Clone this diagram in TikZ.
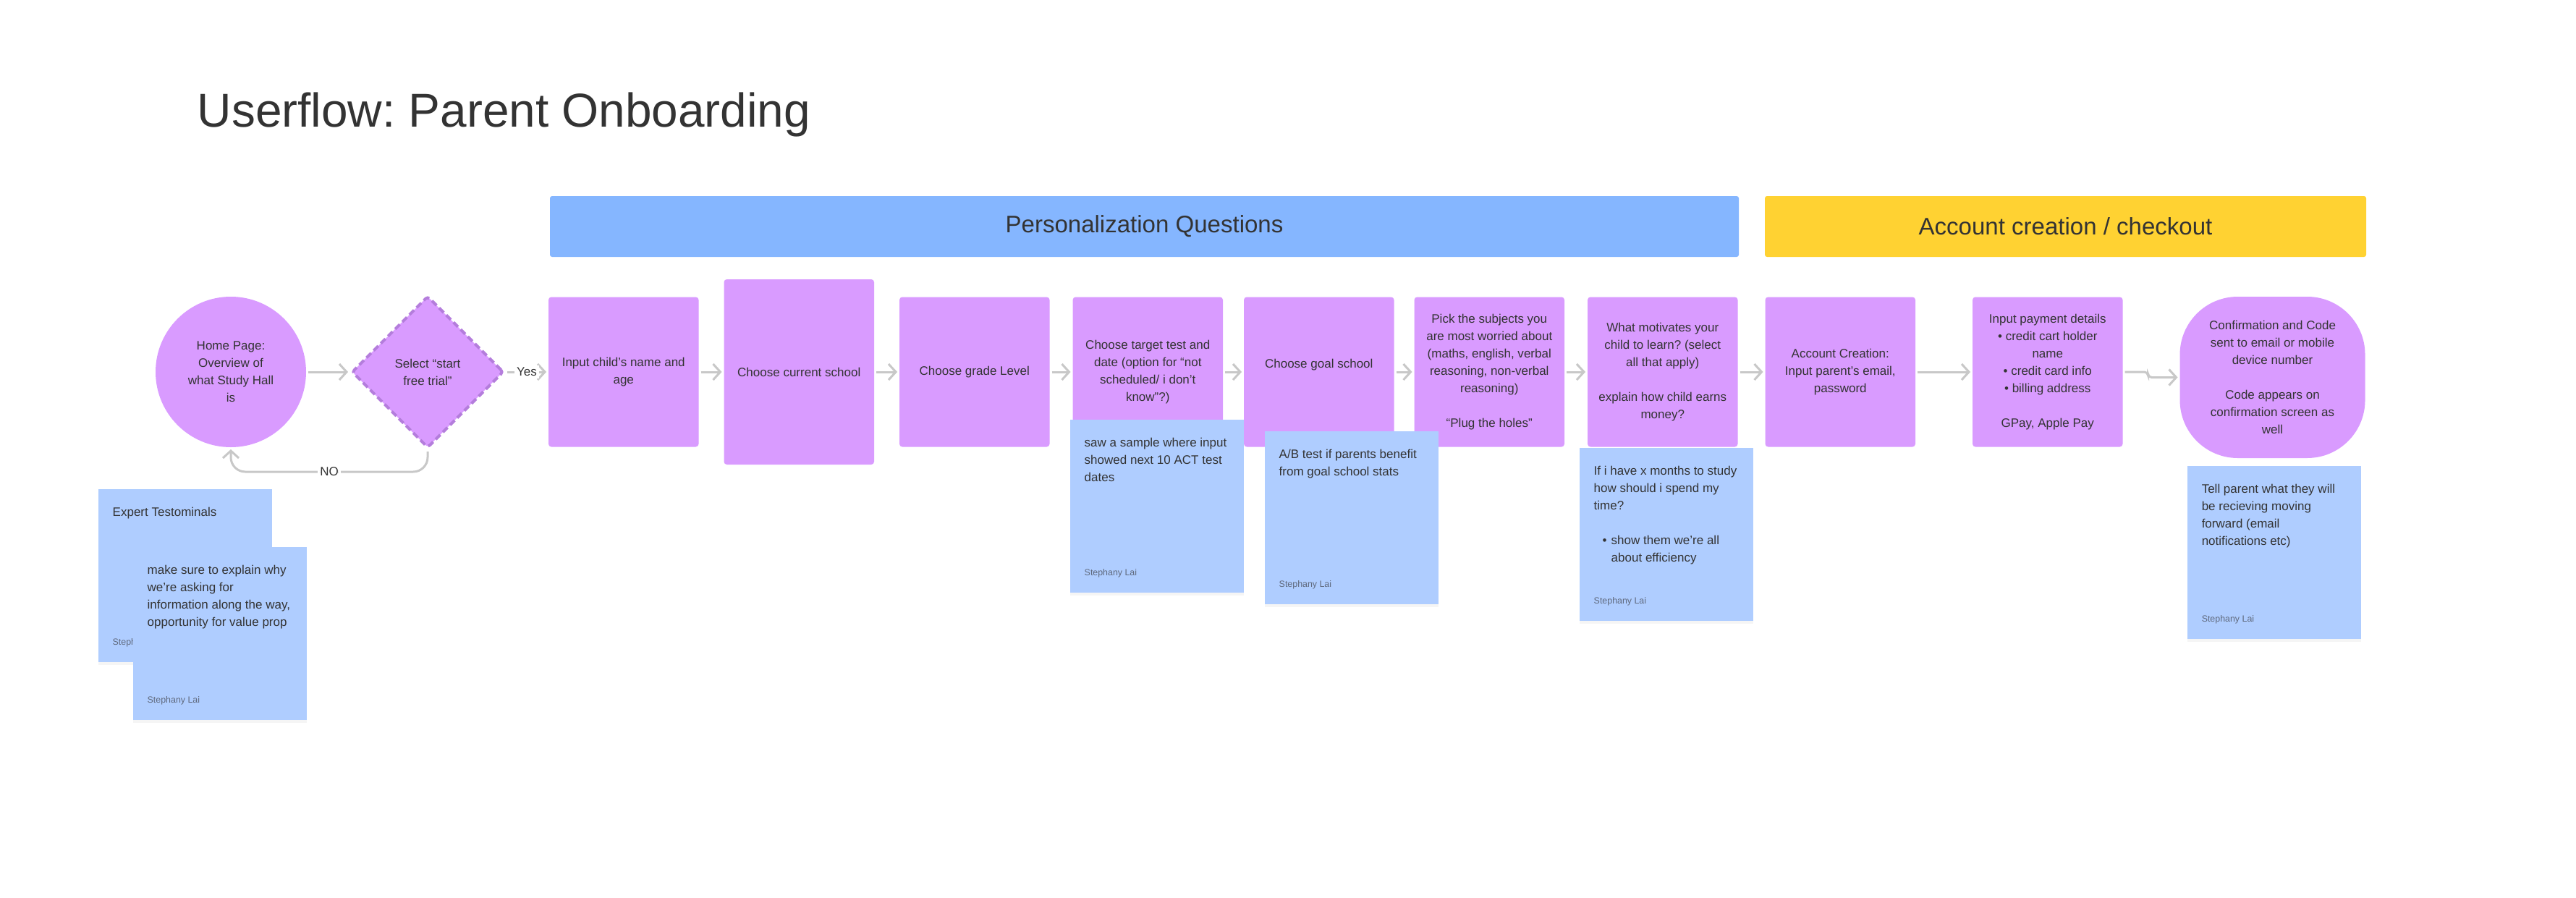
\documentclass[tikz,border=0pt]{standalone}
\usepackage{fontspec}
\setmainfont{Liberation Sans}
\frenchspacing
\usetikzlibrary{positioning,shapes.geometric,arrows.meta,shadows}

\definecolor{stepviolet}{RGB}{217,155,255}
\definecolor{dashviolet}{RGB}{180,125,220}
\definecolor{noteblue}{RGB}{175,205,255}
\definecolor{barblue}{RGB}{133,182,255}
\definecolor{baryellow}{RGB}{255,210,50}
\definecolor{flowgray}{RGB}{200,200,200}
\definecolor{inkgray}{RGB}{51,51,51}
\definecolor{authorgray}{RGB}{95,105,125}

\begin{document}
\begin{tikzpicture}[font=\fontsize{4.84pt}{6.83pt}\selectfont, text=inkgray,
        stepbox/.style={rectangle, fill=stepviolet, rounded corners=0.04cm, minimum width=2.075cm, minimum height=2.07cm, align=center, inner sep=0.01cm, outer sep=0pt},
        startnode/.style={circle, fill=stepviolet, minimum size=2.08cm, align=center, inner sep=0pt, outer sep=0pt},
        decision/.style={diamond, aspect=1, fill=stepviolet, draw=dashviolet, line width=0.04cm, dash pattern=on 0.09cm off 0.05cm, rounded corners=0.04cm, minimum width=2.1cm, minimum height=2.1cm, align=center, inner sep=0.03cm, outer sep=0.02cm},
        notebox/.style={rectangle, fill=noteblue, minimum width=2.4cm, minimum height=2.39cm, anchor=north west, drop shadow={shadow xshift=0cm, shadow yshift=-0.04cm, opacity=0.08}},
        notetext/.style={align=left, inner sep=0pt},
        author/.style={font=\fontsize{3.53pt}{4.5pt}\selectfont, text=authorgray, inner sep=0pt},
        headbar/.style={rectangle, rounded corners=0.03cm, minimum height=0.84cm, font=\fontsize{9.4pt}{11pt}\selectfont},
        flow/.style={draw=flowgray, line width=0.03cm, -{Straight Barb[length=0.1cm, width=0.22cm]}, shorten >=0.03cm, shorten <=0.03cm},
        flowlabel/.style={fill=white, inner sep=0.03cm}]

        \fill[white] (0,0) rectangle (35.6,12.4);
        \useasboundingbox (0,0) rectangle (35.6,12.4);

        % title and section bars
        \node[anchor=base west, inner sep=0pt, font=\fontsize{18.7pt}{22pt}\selectfont] (title) at (2.72,10.65) {Userflow: Parent Onboarding};
        \node[headbar, fill=barblue, minimum width=16.43cm] (personal) at (15.815,9.27) {Personalization Questions};
        \node[headbar, fill=baryellow, minimum width=8.31cm] (checkout) at (28.545,9.27) {Account creation / checkout};

        % main flow
        \node[startnode] (home) at (3.19,7.26) {Home Page:\\Overview of\\what Study Hall\\is};
        \node[decision] (trial) [right=0.61cm of home] {Select “start\\free trial”};
        \node[stepbox] (child) [right=0.6cm of trial] {Input child’s name and\\age};
        \node[stepbox, minimum height=2.56cm] (school) [right=0.35cm of child] {Choose current school};
        \node[stepbox] (grade) [right=0.35cm of school] {Choose grade Level};
        \node[stepbox] (test) [right=0.32cm of grade] {Choose target test and\\date (option for “not\\scheduled/ i don’t\\know”?)};
        \node[stepbox] (goal) [right=0.29cm of test] {Choose goal school\\\mbox{}};
        \node[stepbox] (subjects) [right=0.28cm of goal] {Pick the subjects you\\are most worried about\\(maths, english, verbal\\reasoning, non-verbal\\reasoning)\\[6.83pt]“Plug the holes”};
        \node[stepbox] (motivation) [right=0.32cm of subjects] {What motivates your\\child to learn? (select\\all that apply)\\[6.83pt]explain how child earns\\money?};
        \node[stepbox] (account) [right=0.38cm of motivation] {Account Creation:\\Input parent’s email,\\password};
        \node[stepbox] (payment) [right=0.79cm of account] {Input payment details\\• credit cart holder\\name\\• credit card info\\• billing address\\[6.83pt]GPay, Apple Pay};
        \node[stepbox, rounded corners=0.8cm, minimum width=2.56cm, minimum height=2.23cm] (confirm) [right=0.79cm of payment, yshift=-0.075cm] {Confirmation and Code\\sent to email or mobile\\device number\\[6.83pt]Code appears on\\confirmation screen as\\well};

        \draw[flow] (home) -- (trial);
        \draw[flow] (trial) -- node[flowlabel] {Yes} (child);
        \draw[flow, rounded corners=0.2cm] (trial.south) -- ++(0,-0.31) -| node[flowlabel, pos=0.25] {NO} (home.south);
        \draw[flow] (child) -- (school);
        \draw[flow] (school) -- (grade);
        \draw[flow] (grade) -- (test);
        \draw[flow] (test) -- (goal);
        \draw[flow] (goal) -- (subjects);
        \draw[flow] (subjects) -- (motivation);
        \draw[flow] (motivation) -- (account);
        \draw[flow] (account) -- (payment);
        \draw[flow, rounded corners=0.05cm] (payment.east) -- ++(0.35,0) |- (confirm.west);

        % sticky notes
        \node[notebox] (experts) at (1.35,5.65) {};
        \node[notetext] (expertstext) [below right=0.25cm and 0.2cm of experts.north west] {Expert Testominals};
        \node[author] (expertsby) [above right=0.21cm and 0.2cm of experts.south west] {Stephany Lai};

        \node[notebox] (explain) at (1.83,4.85) {};
        \node[notetext] (explaintext) [below right=0.25cm and 0.2cm of explain.north west] {make sure to explain why\\we’re asking for\\information along the way,\\opportunity for value prop};
        \node[author] (explainby) [above right=0.21cm and 0.2cm of explain.south west] {Stephany Lai};

        \node[notebox] (sample) at (14.78,6.61) {};
        \node[notetext] (sampletext) [below right=0.25cm and 0.2cm of sample.north west] {saw a sample where input\\showed next 10 ACT test\\dates};
        \node[author] (sampleby) [above right=0.21cm and 0.2cm of sample.south west] {Stephany Lai};

        \node[notebox] (abtest) at (17.47,6.45) {};
        \node[notetext] (abtesttext) [below right=0.25cm and 0.2cm of abtest.north west] {A/B test if parents benefit\\from goal school stats};
        \node[author] (abtestby) [above right=0.21cm and 0.2cm of abtest.south west] {Stephany Lai};

        \node[notebox] (months) at (21.82,6.22) {};
        \node[notetext] (monthstext) [below right=0.25cm and 0.2cm of months.north west] {If i have x months to study\\how should i spend my\\time?\\[6.83pt]\hspace*{0.12cm}•\hspace{0.06cm}show them we’re all\\\hspace*{0.24cm}about efficiency};
        \node[author] (monthsby) [above right=0.21cm and 0.2cm of months.south west] {Stephany Lai};

        \node[notebox] (tellparent) at (30.22,5.97) {};
        \node[notetext] (tellparenttext) [below right=0.25cm and 0.2cm of tellparent.north west] {Tell parent what they will\\be recieving moving\\forward (email\\notifications etc)};
        \node[author] (tellparentby) [above right=0.21cm and 0.2cm of tellparent.south west] {Stephany Lai};

\end{tikzpicture}
\end{document}
